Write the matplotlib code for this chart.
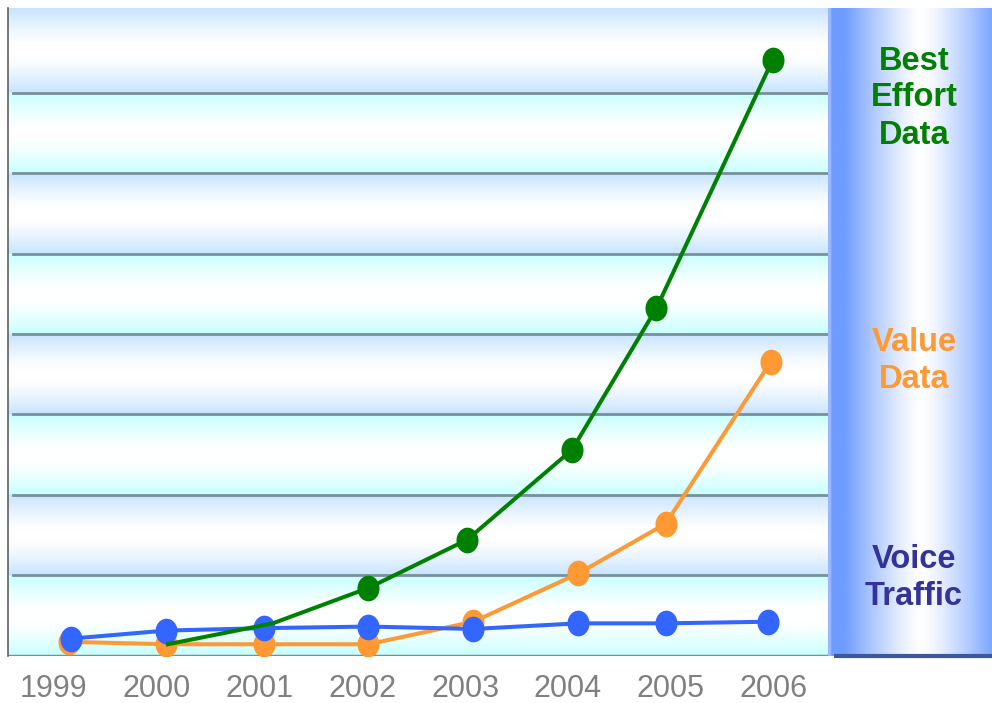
import numpy as np
import matplotlib
matplotlib.use("Agg")
import matplotlib.pyplot as plt
from matplotlib.path import Path
from matplotlib.transforms import Affine2D
from matplotlib.colors import to_rgb

# ---------------- data ----------------
years = [1999, 2000, 2001, 2002, 2003, 2004, 2005, 2006]
year_labels = ["1999", "2000", "2001", "2002", "2003", "2004", "2005", "2006"]

voice_x = [1999.17, 2000.09, 2001.04, 2002.06, 2003.08, 2004.10, 2004.95, 2005.94]
voice_y = [0.21, 0.31, 0.34, 0.36, 0.33, 0.40, 0.40, 0.42]

value_x = [1999.15, 2000.09, 2001.04, 2002.06, 2003.08, 2004.10, 2004.95, 2005.97]
value_y = [0.17, 0.14, 0.14, 0.14, 0.42, 1.02, 1.64, 3.65]

best_x = [2000.11, 2001.13, 2002.06, 2003.02, 2004.04, 2004.86, 2005.99]
best_y = [0.14, 0.40, 0.84, 1.44, 2.56, 4.32, 7.41]

panel_labels = ["Best\nEffort\nData", "Value\nData", "Voice\nTraffic"]

# ---------------- styling ----------------
C_GREEN = "#008000"
C_ORANGE = "#ff9933"
C_BLUE = "#3366ff"
C_NAVY = "#333399"
GRID_C = "#7a9098"

W, H = 992, 703
fig = plt.figure(figsize=(W / 100, H / 100), dpi=100)
fig.patch.set_facecolor("white")

XMIN, XMAX = 1998.556, 2006.547
YMIN, YMAX = 0.0, 8.05

ax = fig.add_axes([8 / W, 1 - 655.5 / H, 822 / W, 647.2 / H])
ax.set_xlim(XMIN, XMAX)
ax.set_ylim(YMIN, YMAX)

# banded gradient background
n = 1600
yy = np.linspace(YMIN, YMAX, n)
img = np.ones((n, 1, 3))
blue_edge = np.array(to_rgb("#c6e4ff"))
cyan_edge = np.array(to_rgb("#c6ffff"))
white = np.ones(3)
for i, yv in enumerate(yy):
    band = min(int(yv), 7)
    blen = (YMAX - 7) if band == 7 else 1.0
    pos = (yv - band) / blen
    t = abs(pos - 0.5) * 2
    f = np.clip((t - 0.12) / 0.88, 0, 1) ** 1.3
    edge = cyan_edge if band % 2 == 0 else blue_edge
    img[i, 0, :] = white + (edge - white) * f
ax.imshow(img, extent=[XMIN, XMAX, YMIN, YMAX], origin="lower",
          aspect="auto", interpolation="bilinear", zorder=0)

# gridlines
for g in range(1, 8):
    ax.axhline(g, color=GRID_C, lw=2.0, zorder=1, xmin=0.006)
ax.axhline(0, color=GRID_C, lw=2.5, zorder=1)

for s in ["top", "right", "bottom"]:
    ax.spines[s].set_visible(False)
ax.spines["left"].set_color("#606060")
ax.spines["left"].set_linewidth(1.2)

# elliptical marker
ell = Path.unit_circle().transformed(Affine2D().scale(0.85, 1.0))

LW = 2.9
MS = 17.5
ax.plot(value_x, value_y, color=C_ORANGE, lw=LW, marker=ell, ms=MS,
        mec=C_ORANGE, mfc=C_ORANGE, zorder=3)
ax.plot(voice_x, voice_y, color=C_BLUE, lw=LW, marker=ell, ms=MS,
        mec=C_BLUE, mfc=C_BLUE, zorder=4)
ax.plot(best_x, best_y, color=C_GREEN, lw=LW, zorder=5)
ax.plot(best_x, best_y, ls="none", marker=ell, ms=MS, markevery=list(range(2, len(best_x))),
        mec=C_GREEN, mfc=C_GREEN, zorder=5)

ax.set_xticks(years)
ax.set_xticklabels(year_labels, fontsize=22, color="#808080", family="Liberation Sans")
ax.tick_params(axis="x", length=0, pad=13.5)
ax.set_yticks([])

# ---------------- right panel ----------------
pax = fig.add_axes([828 / W, 1 - 655.5 / H, (W - 828) / W, 648 / H])
pax.set_xlim(0, 1)
pax.set_ylim(0, 1)
pax.axis("off")
m = 400
xs = np.linspace(0, 1, m)
pimg = np.ones((1, m, 3))
blue_l = np.array(to_rgb("#6e9cff"))
blue_r = np.array(to_rgb("#7ca6ff"))
center = 0.57
for j, xv in enumerate(xs):
    if xv < 3 / 164:
        pimg[0, j, :] = to_rgb("#9ab8ff")
        continue
    if xv < center:
        t = (center - xv) / (center - 0.1)
        t = np.clip(t, 0, 1) ** 1.3
        pimg[0, j, :] = white + (blue_l - white) * t
    else:
        t = (xv - center) / (1 - center)
        t = np.clip(t, 0, 1) ** 1.3
        pimg[0, j, :] = white + (blue_r - white) * t
pax.imshow(pimg, extent=[0, 1, 0, 1], aspect="auto", interpolation="bilinear", zorder=0)
pax.plot([0.035, 1], [0.0, 0.0], color="#3c5a9a", lw=3, zorder=2, solid_capstyle="butt",
         clip_on=False)

txt_kw = dict(ha="center", va="center", fontsize=23.5, fontweight="bold",
              family="Liberation Sans", linespacing=1.25, transform=pax.transAxes)
cx = (914 - 828) / (W - 828)
pax.text(cx, (655.5 - 98) / 648, panel_labels[0], color=C_GREEN, **txt_kw)
pax.text(cx, (655.5 - 361) / 648, panel_labels[1], color=C_ORANGE, **txt_kw)
pax.text(cx, (655.5 - 578) / 648, panel_labels[2], color=C_NAVY, **txt_kw)

fig.savefig("out.png", dpi=100)
